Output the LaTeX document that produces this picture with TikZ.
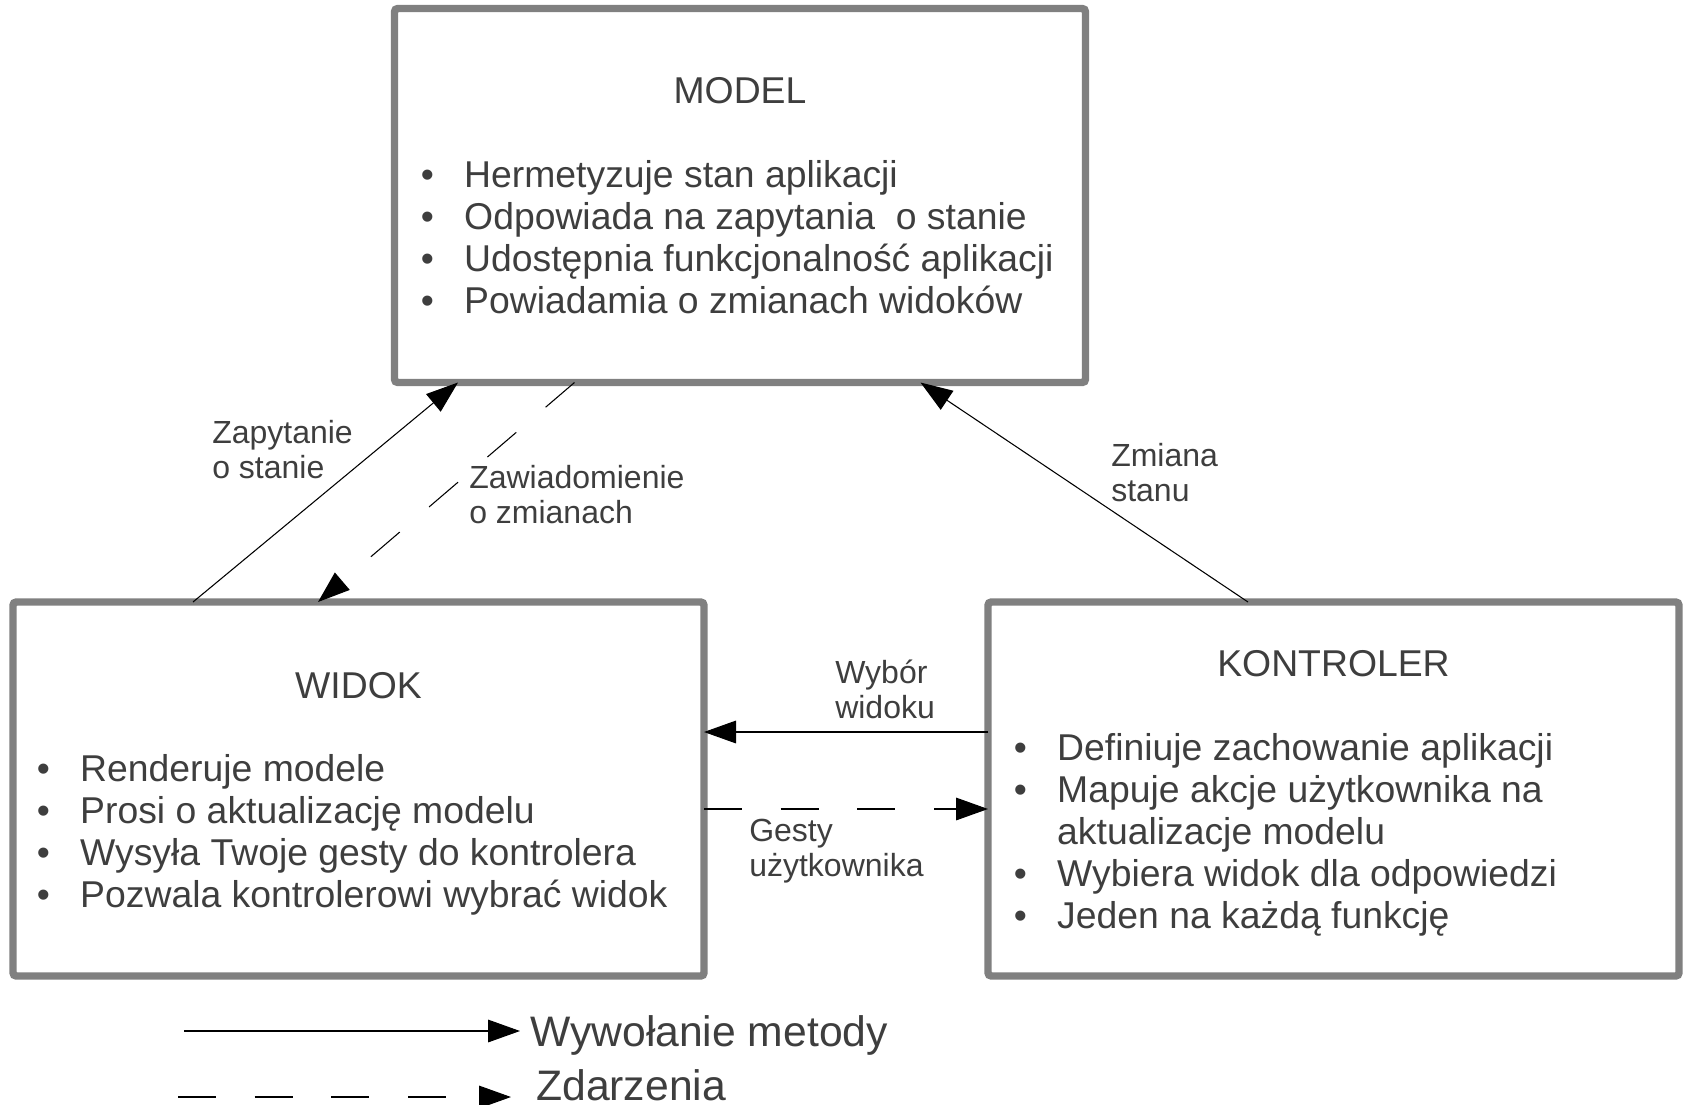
\documentclass[tikz,border=0pt]{standalone}
\usepackage{fontspec}
\setmainfont{Liberation Sans}
\usetikzlibrary{arrows.meta,calc}
\definecolor{txt}{RGB}{62,62,62}
\definecolor{boxgray}{RGB}{128,128,128}
\newcommand\bulletmark{\makebox[32.6pt][l]{•}}
\begin{document}
\begin{tikzpicture}[x=0.75pt,y=-0.75pt,
  box/.style={draw=boxgray,line width=5.6pt,rounded corners=2.5pt,outer sep=0pt,inner sep=0pt,minimum width=518.25pt,minimum height=280.5pt},
  title/.style={text=txt,inner sep=0pt,font=\fontsize{28}{31.5}\selectfont,anchor=base},
  list/.style={text=txt,inner sep=0pt,font=\fontsize{28}{31.5}\selectfont,anchor=base west},
  lbl/.style={text=txt,inner sep=0pt,font=\fontsize{24}{26.25}\selectfont,anchor=base west},
  leg/.style={text=txt,inner sep=0pt,font=\fontsize{32}{36}\selectfont,anchor=base west},
  call/.style={line width=0.8pt,-{Triangle[length=24pt,width=17pt]}},
  event/.style={call,dash pattern=on 28.5pt off 29pt}]

\useasboundingbox (0,0) rectangle (1686,1104);

% boxes
\node[box] (model) at (740,195.5) {};
\node[box] (widok) at (358.5,789) {};
\node[box] (kontroler) at (1333.5,789) {};

% titles
\node[title] (tmodel) at (740,103) {MODEL};
\node[title] (twidok) at (358.5,698) {WIDOK};
\node[title] (tkontroler) at (1333.5,676) {KONTROLER};

% lists
\node[list] (lmodel) at (420.5,187) {\begin{tabular}[t]{@{}l@{}}
\bulletmark Hermetyzuje stan aplikacji\\
\bulletmark Odpowiada na zapytania\ \ o stanie\\
\bulletmark Udostępnia funkcjonalność aplikacji\\
\bulletmark Powiadamia o zmianach widoków
\end{tabular}};
\node[list] (lwidok) at (36.5,781) {\begin{tabular}[t]{@{}l@{}}
\bulletmark Renderuje modele\\
\bulletmark Prosi o aktualizację modelu\\
\bulletmark Wysyła Twoje gesty do kontrolera\\
\bulletmark Pozwala kontrolerowi wybrać widok
\end{tabular}};
\node[list] (lkontroler) at (1013.5,760) {\begin{tabular}[t]{@{}l@{}}
\bulletmark Definiuje zachowanie aplikacji\\
\bulletmark Mapuje akcje użytkownika na\\
\hspace*{32.6pt}aktualizacje modelu\\
\bulletmark Wybiera widok dla odpowiedzi\\
\bulletmark Jeden na każdą funkcję
\end{tabular}};

% connector labels
\node[lbl] (lzap) at (212,443) {\begin{tabular}[t]{@{}l@{}}Zapytanie\\o stanie\end{tabular}};
\node[lbl] (lzaw) at (469,488) {\begin{tabular}[t]{@{}l@{}}Zawiadomienie\\o zmianach\end{tabular}};
\node[lbl] (lzmi) at (1111,466) {\begin{tabular}[t]{@{}l@{}}Zmiana\\stanu\end{tabular}};
\node[lbl] (lwyb) at (835,683) {\begin{tabular}[t]{@{}l@{}}Wybór\\widoku\end{tabular}};
\node[lbl] (lges) at (749,841) {\begin{tabular}[t]{@{}l@{}}Gesty\\użytkownika\end{tabular}};

% connectors
\draw[call] ($(widok.north west)+(180,0)$) -- ($(model.south west)+(63.5,0)$);
\draw[event] ($(model.south west)+(180,0)$) -- ($(widok.north west)+(305,0)$);
\draw[call] ($(kontroler.north west)+(260,0)$) -- ($(model.south west)+(526,0)$);
\draw[call] ($(kontroler.west)+(0,-57)$) -- ($(widok.east)+(0,-57)$);
\draw[event] ($(widok.east)+(0,20)$) -- ($(kontroler.west)+(0,20)$);

% legend
\coordinate (ls1) at (184,1031);
\coordinate (le1) at (520,1031);
\coordinate (ls2) at (178,1097);
\coordinate (le2) at (511,1097);
\draw[call] (ls1) -- (le1);
\draw[event] (ls2) -- (le2);
\node[leg] (leg1) at (530,1046) {Wywołanie metody};
\node[leg] (leg2) at (536,1100) {Zdarzenia};
\end{tikzpicture}
\end{document}
